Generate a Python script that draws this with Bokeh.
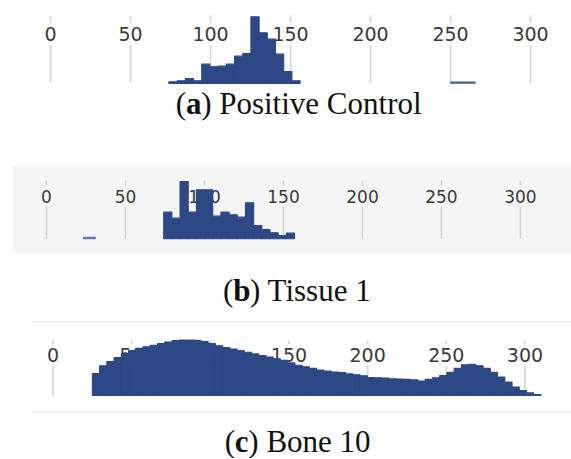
import numpy as np
from bokeh.plotting import figure
from bokeh.layouts import column, row
from bokeh.models import Range1d, Spacer
from bokeh.core.properties import value
from bokeh.embed import file_html
from bokeh.resources import INLINE

# ---------------- data ----------------
tick_values = [0, 50, 100, 150, 200, 250, 300]
tick_labels = ["0", "50", "100", "150", "200", "250", "300"]

# (a) Positive Control
a_bin_range = (74.0, 156.0)
a_counts = [5, 8, 15, 8, 58, 50, 52, 58, 82, 90, 200, 152, 133, 88, 36, 8]
a_extra_left = [250.0]
a_extra_right = [265.5]
a_extra_counts = [5]

# (b) Tissue 1
b_bin_range = (74.2, 157.0)
b_counts = [80, 62, 172, 80, 147, 147, 68, 80, 72, 65, 108, 40, 28, 18, 10, 17]
b_extra_left = [23.4]
b_extra_right = [31.0]
b_extra_counts = [5]

# (c) Bone 10
c_bin_range = (25.0, 310.2)
c_counts = [68, 92, 105, 118, 129, 139, 146, 151, 156, 161,
            166, 170, 172, 172, 171, 167, 161, 154, 149, 144,
            139, 134, 129, 124, 119, 114, 109, 101, 94, 89,
            84, 79, 76, 73, 71, 67, 64, 61, 56, 55,
            54, 52, 51, 50, 49, 45, 50, 55, 62, 72,
            84, 95, 97, 92, 84, 72, 57, 42, 26, 15,
            8, 3]

letters = ["a", "b", "c"]
captions = ["Positive Control", "Tissue 1", "Bone 10"]

# ---------------- styling ----------------
BAR = "#2d4884"
GRID = "#d4d4d4"
LABEL = "#3a3a3a"
W = 571

TIMES = {'(': .333, ')': .333, ' ': .25, 'P': .556, 'o': .5, 's': .389, 'i': .278,
         't': .278, 'v': .5, 'e': .444, 'C': .667, 'n': .5, 'r': .333, 'l': .278,
         'T': .611, 'u': .5, '1': .5, 'B': .667, '0': .5}
TIMES_BOLD = {'a': .5, 'b': .556, 'c': .444}


def bare(p):
    p.outline_line_color = None
    p.xgrid.visible = False
    p.ygrid.visible = False
    return p


def hist_panel(width, height, xr, yr, borders, bg, border_fill, counts, bin_range,
               extra_l, extra_r, extra_c, label_y, line_top, font_size):
    p = figure(width=width, height=height, x_range=Range1d(*xr), y_range=Range1d(*yr),
               x_axis_location=None, y_axis_location=None, toolbar_location=None,
               output_backend="svg", min_border_left=borders[0], min_border_right=borders[1],
               min_border_top=borders[2], min_border_bottom=borders[3])
    bare(p)
    p.background_fill_color = bg
    p.border_fill_color = border_fill
    # tick lines
    p.segment(x0=tick_values, y0=0, x1=tick_values, y1=line_top,
              line_color=GRID, line_width=1.6)
    # tick labels with background
    p.text(x=tick_values, y=label_y, text=tick_labels, text_font=value("DejaVu Sans"),
           text_font_size=font_size, text_color=LABEL, text_align="center",
           text_baseline="middle", background_fill_color=bg, padding=4)
    # histogram bars
    edges = np.linspace(bin_range[0], bin_range[1], len(counts) + 1)
    p.quad(left=edges[:-1], right=edges[1:], bottom=0, top=counts,
           fill_color=BAR, line_color=BAR, line_width=1.1)
    if len(extra_c):
        p.quad(left=extra_l, right=extra_r, bottom=0, top=extra_c,
               fill_color="#4a63a0", line_color="#4a63a0", line_width=0.6)
    return p


def caption_fig(height, y, letter, rest, fs=31):
    p = figure(width=W, height=height, x_range=Range1d(0, W), y_range=Range1d(0, height),
               x_axis_location=None, y_axis_location=None, toolbar_location=None,
               output_backend="svg", min_border=0)
    bare(p)
    w_par = TIMES['('] * fs
    w_let = TIMES_BOLD[letter] * fs
    tail = ") " + rest
    w_tail = sum(TIMES[ch] for ch in tail) * fs
    total = w_par + w_let + w_tail
    cx = 290
    x0 = cx - total / 2
    common = dict(text_font=value("Liberation Serif"), text_font_size=f"{fs}px",
                  text_color="#111111", text_baseline="middle", text_align="left")
    p.text(x=[x0], y=[y], text=["("], **common)
    p.text(x=[x0 + w_par], y=[y], text=[letter], text_font_style="bold", **common)
    p.text(x=[x0 + w_par + w_let], y=[y], text=[tail], **common)
    return p


# (a)
pa = hist_panel(W, 84, (-23.75, 325.6), (-3, 207), (12, 0, 14, 0), "white", "white",
                a_counts, a_bin_range, a_extra_left, a_extra_right, a_extra_counts,
                label_y=149, line_top=204, font_size="19px")
ca = caption_fig(81, 62, letters[0], captions[0])

# (b)
pb = hist_panel(W, 88, (-21.5, 332.3), (-44.1, 219.9), (12, 0, 0, 0), "#f5f5f5", "white",
                b_counts, b_bin_range, b_extra_left, b_extra_right, b_extra_counts,
                label_y=127.5, line_top=175, font_size="17px")
cb = caption_fig(67, 30, letters[1], captions[1])

# (c)
pc = hist_panel(540, 93, (-13.7, 329.6), (-46.5, 223.2), (0, 0, 3, 3), "white", "#f1f1f1",
                c_counts, c_bin_range, [], [], [],
                label_y=125.6, line_top=170.5, font_size="19px")
cc = caption_fig(45, 17, letters[2], captions[2])

layout = column(pa, ca, pb, cb, row(Spacer(width=31, height=93), pc), cc)

open("out.html", "w").write(file_html(layout, INLINE))
